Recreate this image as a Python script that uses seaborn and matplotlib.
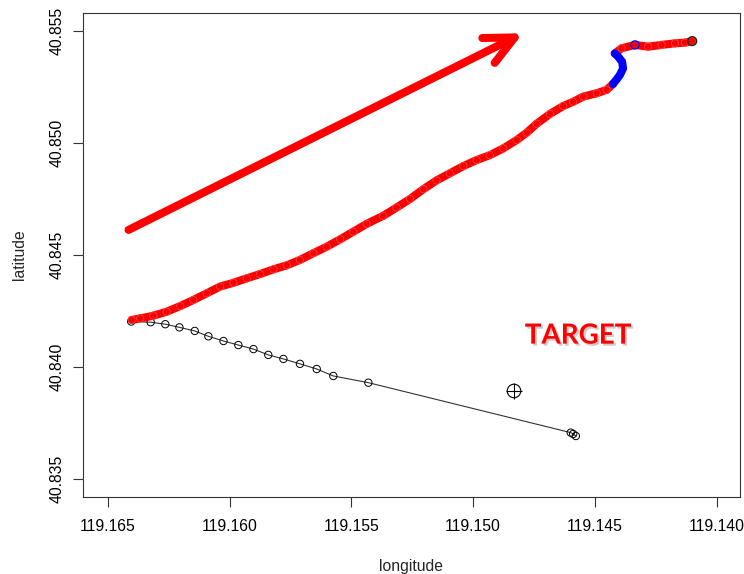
import matplotlib
matplotlib.use("Agg")
import matplotlib.pyplot as plt
import matplotlib.patheffects as pe
from matplotlib.patches import FancyArrowPatch
import pandas as pd
import seaborn as sns

# ---- data -------------------------------------------------------------
# GPS track, first red stretch (start -> bend)
track_a_lon = [119.16402, 119.16367, 119.16313, 119.16258, 119.16203, 119.16149,
               119.16094, 119.16039, 119.15984, 119.15929, 119.15875, 119.15820,
               119.15765, 119.15711, 119.15656, 119.15601, 119.15546, 119.15492,
               119.15437, 119.15369, 119.15314, 119.15259, 119.15204, 119.15150,
               119.15095, 119.15040, 119.14985, 119.14931, 119.14876, 119.14821,
               119.14780, 119.14739, 119.14684, 119.14630, 119.14589, 119.14548,
               119.14493, 119.14452, 119.14426]
track_a_lat = [40.84210, 40.84217, 40.84229, 40.84247, 40.84272, 40.84299,
               40.84329, 40.84359, 40.84376, 40.84396, 40.84415, 40.84436,
               40.84454, 40.84478, 40.84508, 40.84537, 40.84570, 40.84604,
               40.84639, 40.84675, 40.84712, 40.84750, 40.84794, 40.84833,
               40.84865, 40.84897, 40.84924, 40.84946, 40.84976, 40.85013,
               40.85046, 40.85086, 40.85130, 40.85165, 40.85184, 40.85207,
               40.85222, 40.85237, 40.85263]
# S-bend recorded in the second mode (blue)
turn_lon = [119.14426, 119.14409, 119.14397, 119.14384, 119.14388, 119.14404, 119.14418]
turn_lat = [40.85263, 40.85286, 40.85304, 40.85333, 40.85363, 40.85385, 40.85400]
# GPS track, last red stretch (bend -> end)
track_b_lon = [119.14418, 119.14390, 119.14335, 119.14281, 119.14226, 119.14171,
               119.14130, 119.14100]
track_b_lat = [40.85400, 40.85423, 40.85438, 40.85430, 40.85438, 40.85445,
               40.85448, 40.85455]
# isolated blue fixes on the red stretch
blue_fix_lon = [119.14335]
blue_fix_lat = [40.85438]

# straight-line heading path (black)
path_lon = [119.16404, 119.16324, 119.16264, 119.16206, 119.16143, 119.16087,
            119.16025, 119.15964, 119.15902, 119.15841, 119.15779, 119.15711,
            119.15642, 119.15574, 119.15430, 119.14599, 119.14589, 119.14578]
path_lat = [40.84203, 40.84200, 40.84191, 40.84177, 40.84161, 40.84137,
            40.84116, 40.84098, 40.84080, 40.84054, 40.84036, 40.84014,
            40.83991, 40.83960, 40.83930, 40.83707, 40.83701, 40.83692]

end_lon = [119.14100]
end_lat = [40.85455]

target_lon = [119.14832]
target_lat = [40.83893]
target_label = "TARGET"
target_label_pos = (119.14569, 40.84140)

arrow_from = (119.16415, 40.84612)
arrow_to = (119.14795, 40.85490)

x_ticks = [119.165, 119.160, 119.155, 119.150, 119.145, 119.140]
x_tick_labels = ["119.165", "119.160", "119.155", "119.150", "119.145", "119.140"]
y_ticks = [40.835, 40.840, 40.845, 40.850, 40.855]
y_tick_labels = ["40.835", "40.840", "40.845", "40.850", "40.855"]

# ---- figure -----------------------------------------------------------
sns.set_style("ticks")
plt.rcParams["font.family"] = ["Liberation Sans", "DejaVu Sans"]

fig = plt.figure(figsize=(7.44, 5.74), dpi=100)
ax = fig.add_axes([0.1112, 0.1347, 0.8834, 0.8421])

track_a = pd.DataFrame({"lon": track_a_lon, "lat": track_a_lat})
track_b = pd.DataFrame({"lon": track_b_lon, "lat": track_b_lat})
turn = pd.DataFrame({"lon": turn_lon, "lat": turn_lat})
path = pd.DataFrame({"lon": path_lon, "lat": path_lat})

# heading path: thin line with open circles
sns.lineplot(data=path, x="lon", y="lat", sort=False, estimator=None,
             color="#333333", lw=0.8, ax=ax, zorder=2)
sns.scatterplot(data=path, x="lon", y="lat", marker="o", s=28,
                facecolors="none", edgecolors="black", linewidth=0.7,
                ax=ax, zorder=3)

# recorded track: dense band of red fixes
for seg in (track_a, track_b):
    sns.lineplot(data=seg, x="lon", y="lat", sort=False, estimator=None,
                 color="red", lw=5.8, ax=ax, zorder=4,
                 solid_capstyle="round", solid_joinstyle="round")
    sns.scatterplot(data=seg, x="lon", y="lat", marker="o", s=28,
                    facecolors="none", edgecolors="#ff4040", linewidth=0.6,
                    ax=ax, zorder=5)
sns.lineplot(data=turn, x="lon", y="lat", sort=False, estimator=None,
             color="blue", lw=5.8, ax=ax, zorder=6,
             solid_capstyle="round", solid_joinstyle="round")
sns.scatterplot(x=blue_fix_lon, y=blue_fix_lat, marker="o", s=34,
                facecolors="none", edgecolors="blue", linewidth=0.9,
                ax=ax, zorder=6)
# fine black trace running through the band
for seg in (track_a, track_b):
    ax.plot(seg["lon"], seg["lat"], color="black", lw=0.6, ls=(0, (1, 3)),
            alpha=0.5, zorder=7)

# end of track
sns.scatterplot(x=end_lon, y=end_lat, marker="o", s=40, facecolors="none",
                edgecolors="#222222", linewidth=1.0, ax=ax, zorder=8)

# target marker: circled plus
sns.scatterplot(x=target_lon, y=target_lat, marker="o", s=95, facecolors="none",
                edgecolors="black", linewidth=0.8, ax=ax, zorder=8)
sns.scatterplot(x=target_lon, y=target_lat, marker="+", s=140, color="black",
                linewidth=0.8, ax=ax, zorder=8)

ax.text(*target_label_pos, target_label, color="red", fontsize=20,
        fontweight="bold", family=["Lato", "DejaVu Sans"],
        ha="center", va="center", zorder=9,
        path_effects=[pe.SimplePatchShadow(offset=(1.5, -1.5),
                                           shadow_rgbFace="#999999", alpha=0.5),
                      pe.Normal()])

# direction of travel
arrow = FancyArrowPatch(arrow_from, arrow_to,
                        arrowstyle="->,head_length=21,head_width=10",
                        mutation_scale=1, color="red", lw=5.8,
                        shrinkA=0, shrinkB=0, capstyle="round",
                        joinstyle="round", zorder=9)
ax.add_patch(arrow)

# ---- axes -------------------------------------------------------------
ax.set_xlim(119.16603, 119.13904)
ax.set_ylim(40.83421, 40.85579)
ax.set_xticks(x_ticks)
ax.set_xticklabels(x_tick_labels)
ax.set_yticks(y_ticks)
ax.set_yticklabels(y_tick_labels, rotation=90, va="center")
ax.tick_params(axis="both", direction="out", length=7, width=0.8,
               color="#333333", labelsize=11.3, labelcolor="black")
ax.tick_params(axis="x", pad=9)
ax.tick_params(axis="y", pad=6)
for sp in ax.spines.values():
    sp.set_visible(True)
    sp.set_linewidth(0.8)
    sp.set_color("#333333")

ax.set_xlabel("longitude", fontsize=11.3, labelpad=18)
ax.set_ylabel("latitude", fontsize=11.3, labelpad=16)

fig.savefig("out.png", dpi=100)
